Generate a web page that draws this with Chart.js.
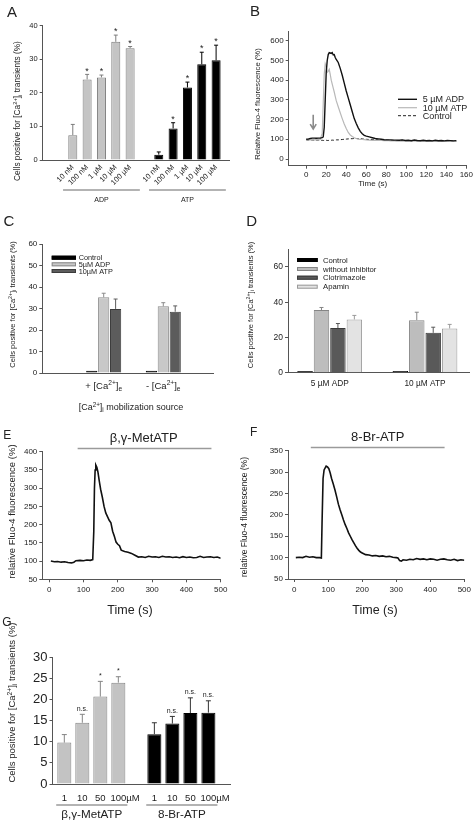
<!DOCTYPE html>
<html>
<head>
<meta charset="utf-8">
<script src="https://cdn.jsdelivr.net/npm/chart.js@4.4.0/dist/chart.umd.min.js"></script>
<style>
  html, body { margin: 0; padding: 0; background: #fff; }
  body { width: 474px; height: 829px; position: relative; overflow: hidden; }
  canvas { position: absolute; }
</style>
</head>
<body>
<canvas id="cA" width="237" height="210" style="left:0;top:0"></canvas>
<canvas id="cB" width="237" height="210" style="left:237px;top:0"></canvas>
<canvas id="cC" width="237" height="206" style="left:0;top:210px"></canvas>
<canvas id="cD" width="237" height="200" style="left:237px;top:210px"></canvas>
<canvas id="cE" width="237" height="212" style="left:0;top:410px"></canvas>
<canvas id="cF" width="237" height="212" style="left:237px;top:410px"></canvas>
<canvas id="cG" width="237" height="219" style="left:0;top:610px"></canvas>
<script>
// ---- data ----
// A: % cells with transients, ADP and ATP dose series
var aDoses = ['10 nM', '100 nM', '1 µM', '10 µM', '100 µM'];
var aGroups = ['ADP', 'ATP'];
var aAdp = [7.4, 24.0, 24.6, 35.2, 33.3];
var aAdpSem = [3.2, 1.5, 0.7, 2.0, 0.5];
var aAdpMarks = ['', '*', '*', '*', '*'];
var aAtp = [1.6, 9.4, 21.6, 28.5, 29.7];
var aAtpSem = [0.8, 1.7, 1.6, 3.6, 4.5];
var aAtpMarks = ['', '*', '*', '*', '*'];
var aYTicks = [0, 10, 20, 30, 40];

// B: Fluo-4 traces
var bSeries = ['5 µM ADP', '10 µM ATP', 'Control'];
var bTime = [0, 2, 4, 6, 8, 10, 12, 14,
  16, 17, 18, 19, 20, 21, 22, 23, 24, 25, 26, 27, 28, 29, 30,
  32, 34, 36, 38, 40, 42, 44, 46, 48, 50, 52, 54, 56, 58, 60,
  63, 66, 69, 72, 75, 78, 81, 84, 87, 90, 93, 96, 99, 102, 105, 108, 111, 114, 117, 120,
  123, 126, 129, 132, 135, 138, 141, 144, 147, 150];
var bAdp = [100, 101, 104, 106, 106, 105, 106, 106,
  108, 112, 160, 300, 440, 500, 530, 540, 538, 536, 540, 528, 530, 515, 505,
  490, 460, 425, 385, 345, 310, 275, 240, 205, 180, 158, 140, 128, 120, 116,
  112, 108, 104, 102, 100, 98, 97, 97, 96, 96, 95, 97, 94, 95, 93, 96, 94, 93, 95, 93,
  94, 92, 95, 93, 94, 92, 94, 93, 92, 93];
var bAtp = [98, 97, 97, 98, 97, 98, 97, 99,
  130, 280, 430, 484, 470, 440, 445, 455, 430, 400, 380, 360, 340, 318, 296,
  265, 235, 205, 178, 155, 135, 122, 114, 108, 104, 101, 100, 99, 98, 97,
  96, 95, 95, 94, 94, 93, 94, 92, 93, 91, 92, 90, 92, 91, 90, 92, 90, 91, 89, 91,
  90, 92, 90, 89, 91, 90, 89, 90, 91, 90];
var bCtrl = [97, 96, 97, 96, 96, 95, 96, 95,
  95, 94, 95, 94, 95, 94, 94, 95, 94, 95, 96, 95, 96, 96, 97,
  97, 98, 99, 100, 101, 102, 103, 103, 104, 104, 103, 103, 102, 101, 100,
  99, 99, 98, 97, 97, 96, 96, 95, 95, 94, 94, 95, 93, 94, 93, 94, 92, 93, 93, 92,
  93, 92, 93, 92, 91, 92, 93, 92, 92, 91];
var bArrowTime = 7;
var bXTicks = [0, 20, 40, 60, 80, 100, 120, 140, 160];
var bYTicks = [0, 100, 200, 300, 400, 500, 600];

// C: Ca2+ source
var cSources = ['+ [Ca^{2+}]_{e}', '- [Ca^{2+}]_{e}'];
var cSeries = ['Control', '5µM ADP', '10µM ATP'];
var cCtrl = [1, 1];
var cAdp = [35.2, 31.0];
var cAdpSem = [1.9, 1.7];
var cAtp = [29.8, 28.5];
var cAtpSem = [4.6, 2.7];
var cYTicks = [0, 10, 20, 30, 40, 50, 60];

// D: inhibitors
var dStimuli = ['5 µM ADP', '10 µM ATP'];
var dSeries = ['Control', 'without inhibitor', 'Clotrimazole', 'Apamin'];
var dCtrl = [1, 1];
var dWithout = [35.5, 29.8];
var dWithoutSem = [1.5, 4.5];
var dClotri = [25.3, 22.6];
var dClotriSem = [2.6, 3.2];
var dApamin = [30.2, 25.1];
var dApaminSem = [2.3, 2.3];
var dYTicks = [0, 20, 40, 60];

// E: beta,gamma-MetATP trace
var eDrug = 'β,γ-MetATP';
var eApplied = [83, 473];
var eTime = [5, 15, 25, 35, 45, 55, 65, 72, 78, 90, 100, 110, 120, 127,
  130, 132, 134, 136, 139, 142, 146, 150,
  155, 160, 165, 170, 175, 180, 185, 190, 195, 200, 205, 210,
  220, 230, 240, 250, 260, 270, 280, 290, 300, 310, 320, 330, 340, 350, 360, 370,
  380, 390, 400, 410, 420, 430, 440, 450, 460, 470, 480, 490, 500];
var eVal = [100, 98, 99, 97, 98, 96, 95, 97, 101, 102, 101, 103, 102, 104,
  180, 300, 350, 363, 357, 345, 320, 297,
  275, 250, 232, 222, 212, 205, 182, 168, 152, 146, 142, 130,
  126, 124, 121, 116, 111, 112, 110, 113, 111, 112, 110, 113, 111, 112, 110, 111,
  109, 112, 110, 111, 109, 110, 113, 110, 111, 112, 110, 111, 108];
var eXTicks = [0, 100, 200, 300, 400, 500];
var eYTicks = [50, 100, 150, 200, 250, 300, 350, 400];

// F: 8-Br-ATP trace
var fDrug = '8-Br-ATP';
var fApplied = [49, 442];
var fTime = [5, 15, 25, 35, 45, 55, 65, 75,
  80, 82, 85, 88, 94, 98, 102, 106, 110,
  115, 120, 125, 130, 135, 140, 145, 150, 155, 160, 165, 170, 175, 180, 185, 190, 195, 200,
  210, 220, 230, 240, 250, 260, 270, 280, 290, 300, 305, 310, 315,
  320, 330, 340, 350, 360, 370, 380, 390, 400, 410, 420, 430, 440, 450, 460, 470, 480, 490, 500];
var fVal = [100, 101, 100, 103, 101, 102, 100, 100,
  99, 180, 285, 305, 314, 312, 308, 298, 285,
  272, 258, 242, 225, 212, 200, 188, 177, 168, 158, 150, 142, 135, 128, 122, 117, 113, 111,
  107, 106, 104, 105, 103, 104, 102, 103, 101, 100, 99, 93, 92,
  95, 94, 96, 95, 98, 96, 97, 95, 97, 96, 94, 96, 97, 95, 94, 96, 93, 95, 94];
var fXTicks = [0, 100, 200, 300, 400, 500];
var fYTicks = [50, 100, 150, 200, 250, 300, 350];

// G: analogue dose series
var gDoses = ['1', '10', '50', '100'];
var gUnit = 'µM';
var gGroups = ['β,γ-MetATP', '8-Br-ATP'];
var gMet = [9.8, 14.5, 20.7, 24.0];
var gMetSem = [1.9, 2.0, 3.6, 1.4];
var gMetMarks = ['', 'n.s.', '*', '*'];
var gBr = [11.8, 14.3, 16.8, 16.9];
var gBrSem = [2.7, 1.7, 3.6, 2.8];
var gBrMarks = ['', 'n.s.', 'n.s.', 'n.s.'];
var gYTicks = [0, 5, 10, 15, 20, 25, 30];

// ---- helpers ----
var FONT = '"Liberation Sans", Arial, Helvetica, sans-serif';
var TXT = '#222';
var AX = '#555';
var CELLS = 'Cells positive for [Ca^{2+}]_{i} transients (%)';
Chart.defaults.font.family = FONT;
Chart.defaults.color = TXT;
Chart.defaults.animation = false;
Chart.defaults.plugins.legend.display = false;
Chart.defaults.plugins.tooltip.enabled = false;

// text with ^{sup} and _{sub}, centred on x,y
function rich(ctx, str, x, y, size, o) {
  o = o || {};
  var parts = [];
  str.split(/(\^\{[^}]*\}|_\{[^}]*\})/).forEach(function (b) {
    if (!b) return;
    if (b.charAt(0) === '^' && b.charAt(1) === '{') parts.push({ t: b.slice(2, -1), k: 1 });
    else if (b.charAt(0) === '_' && b.charAt(1) === '{') parts.push({ t: b.slice(2, -1), k: -1 });
    else parts.push({ t: b, k: 0 });
  });
  ctx.save();
  ctx.translate(x, y);
  if (o.rot) ctx.rotate(o.rot);
  ctx.fillStyle = o.color || TXT;
  ctx.textAlign = 'left';
  ctx.textBaseline = 'alphabetic';
  var w = 0;
  parts.forEach(function (p) {
    p.f = (o.weight ? o.weight + ' ' : '') + (p.k ? size * 0.7 : size) + 'px ' + FONT;
    ctx.font = p.f;
    p.w = ctx.measureText(p.t).width;
    w += p.w;
  });
  var cx = o.align === 'left' ? 0 : -w / 2;
  parts.forEach(function (p) {
    ctx.font = p.f;
    ctx.fillText(p.t, cx, size * 0.35 + (p.k === 1 ? -size * 0.4 : p.k === -1 ? size * 0.2 : 0));
    cx += p.w;
  });
  ctx.restore();
}

function textWidth(ctx, s, size) {
  ctx.save();
  ctx.font = size + 'px ' + FONT;
  var w = ctx.measureText(s).width;
  ctx.restore();
  return w;
}

function hline(ctx, x0, x1, y, color, w) {
  ctx.save();
  ctx.strokeStyle = color;
  ctx.lineWidth = w;
  ctx.beginPath();
  ctx.moveTo(x0, y);
  ctx.lineTo(x1, y);
  ctx.stroke();
  ctx.restore();
}

// place the plot area: p = canvas box, ca = plot area, both in page pixels
function frame(p, ca) {
  return {
    padding: { left: 0, top: ca.t - p.y, right: p.x + p.w - ca.r, bottom: 0 },
    yFit: function (s) { s.width = ca.l - p.x; },
    xFit: function (s) { s.height = p.y + p.h - ca.b; }
  };
}

function fixTicks(vals) {
  return function (s) { s.ticks = vals.map(function (v) { return { value: v }; }); };
}

function idx(arr, start) {
  return arr.map(function (v, i) { return { x: i + (start || 0), y: v }; });
}

function xy(xs, ys) {
  return xs.map(function (t, i) { return { x: t, y: ys[i] }; });
}

function range(n, start) {
  var out = [];
  for (var i = 0; i < n; i++) out.push(i + start);
  return out;
}

function yAxis(f, min, max, ticks, size) {
  return {
    type: 'linear', min: min, max: max,
    afterFit: f.yFit, afterBuildTicks: fixTicks(ticks),
    grid: { drawOnChartArea: false, tickLength: 3, color: AX },
    border: { color: AX, width: 1 },
    ticks: { padding: 2, font: { size: size }, color: TXT }
  };
}

function traceX(f, min, max, ticks, size, pad) {
  return {
    type: 'linear', min: min, max: max,
    afterFit: f.xFit, afterBuildTicks: fixTicks(ticks),
    grid: { drawOnChartArea: false, tickLength: 3, color: AX },
    border: { color: AX, width: 1 },
    ticks: { padding: pad, font: { size: size }, color: TXT, maxRotation: 0 }
  };
}

function groupLines(c, groups, spans, y, ty, size) {
  var xs = c.scales.x;
  groups.forEach(function (g, i) {
    var x0 = xs.getPixelForValue(spans[i][0]);
    var x1 = xs.getPixelForValue(spans[i][1]);
    hline(c.ctx, x0, x1, y, '#9a9a9a', 1.3);
    rich(c.ctx, g, (x0 + x1) / 2, ty, size);
  });
}

function boxLegend(c, x0, x1, ys, tx, size) {
  var ctx = c.ctx;
  c.data.datasets.forEach(function (ds, i) {
    ctx.save();
    ctx.fillStyle = ds.backgroundColor;
    ctx.strokeStyle = ds.borderColor;
    ctx.lineWidth = 1;
    ctx.fillRect(x0, ys[i] - 2, x1 - x0, 4);
    ctx.strokeRect(x0 + 0.5, ys[i] - 1.5, x1 - x0 - 1, 3);
    ctx.restore();
    rich(ctx, ds.label, tx, ys[i], size, { align: 'left' });
  });
}

// upward error bars and significance marks
Chart.register({
  id: 'errorBars',
  afterDatasetsDraw: function (chart) {
    var ctx = chart.ctx, ys = chart.scales.y;
    chart.data.datasets.forEach(function (ds, di) {
      if (!ds.sem) return;
      chart.getDatasetMeta(di).data.forEach(function (bar, i) {
        var top = ys.getPixelForValue(ds.data[i].y + ds.sem[i]);
        ctx.save();
        ctx.strokeStyle = ds.errColor;
        ctx.lineWidth = 1;
        ctx.beginPath();
        ctx.moveTo(bar.x, bar.y);
        ctx.lineTo(bar.x, top);
        ctx.moveTo(bar.x - ds.cap, top);
        ctx.lineTo(bar.x + ds.cap, top);
        ctx.stroke();
        ctx.restore();
        if (ds.marks && ds.marks[i]) rich(ctx, ds.marks[i], bar.x, top - ds.markGap, ds.markSize);
      });
    });
  }
});

// ---- A ----
var pA = { x: 0, y: 0, w: 237, h: 210 };
var fA = frame(pA, { l: 42.7, t: 25.7, r: 229, b: 160 });
var aAtpStart = aDoses.length + 1;
new Chart(document.getElementById('cA'), {
  type: 'bar',
  data: {
    datasets: [
      { label: aGroups[0], data: idx(aAdp), backgroundColor: '#c4c4c4', borderColor: '#7c7c7c', borderWidth: 1,
        sem: aAdpSem, errColor: '#7c7c7c', cap: 2, marks: aAdpMarks, markGap: 4, markSize: 9 },
      { label: aGroups[1], data: idx(aAtp, aAtpStart), backgroundColor: '#000', borderColor: '#000', borderWidth: 1,
        sem: aAtpSem, errColor: '#000', cap: 2, marks: aAtpMarks, markGap: 4, markSize: 9 }
    ]
  },
  options: {
    responsive: false,
    layout: { padding: fA.padding },
    datasets: { bar: { grouped: false, categoryPercentage: 1, barPercentage: 0.63 } },
    scales: {
      x: {
        type: 'linear', min: -2.1, max: 10.9, offset: false,
        afterFit: fA.xFit,
        afterBuildTicks: fixTicks(range(aDoses.length, 0).concat(range(aDoses.length, aAtpStart))),
        grid: { display: false, drawTicks: false, offset: false },
        border: { color: AX },
        ticks: {
          autoSkip: false, minRotation: 45, maxRotation: 45, padding: 3, font: { size: 7.5 }, color: TXT,
          callback: function (v) { return v < aAtpStart ? aDoses[v] : aDoses[v - aAtpStart]; }
        }
      },
      y: yAxis(fA, 0, 40, aYTicks, 7.5)
    }
  },
  plugins: [{
    id: 'extA',
    afterDraw: function (c) {
      rich(c.ctx, 'A', 12, 12, 15);
      rich(c.ctx, CELLS, 17, 111, 8.3, { rot: -Math.PI / 2 });
      var n = aDoses.length - 1;
      groupLines(c, aGroups, [[-0.68, n + 0.68], [aAtpStart - 0.68, aAtpStart + n + 0.68]], 190, 200, 7);
    }
  }]
});

// ---- B ----
var pB = { x: 237, y: 0, w: 237, h: 210 };
var fB = frame(pB, { l: 288.7, t: 31.7, r: 467, b: 165.7 });
new Chart(document.getElementById('cB'), {
  type: 'line',
  data: {
    datasets: [
      { label: bSeries[0], data: xy(bTime, bAdp), borderColor: '#111', borderWidth: 1.4 },
      { label: bSeries[1], data: xy(bTime, bAtp), borderColor: '#b8b8b8', borderWidth: 1.2 },
      { label: bSeries[2], data: xy(bTime, bCtrl), borderColor: '#222', borderWidth: 1, borderDash: [3, 2] }
    ]
  },
  options: {
    responsive: false,
    layout: { padding: fB.padding },
    elements: { point: { radius: 0 }, line: { tension: 0 } },
    scales: {
      x: traceX(fB, -17.5, 160, bXTicks, 8, 1),
      y: yAxis(fB, -34, 646, bYTicks, 8)
    }
  },
  plugins: [{
    id: 'extB',
    afterDraw: function (c) {
      var ctx = c.ctx;
      rich(ctx, 'B', 18, 11, 15);
      rich(ctx, 'Relative Fluo-4 fluorescence (%)', 20.7, 104, 7.7, { rot: -Math.PI / 2 });
      rich(ctx, 'Time (s)', 135.7, 182.7, 8);
      var ly = [99.3, 107.7, 115.7];
      c.data.datasets.forEach(function (ds, i) {
        ctx.save();
        ctx.strokeStyle = ds.borderColor;
        ctx.lineWidth = ds.borderWidth;
        ctx.setLineDash(ds.borderDash || []);
        ctx.beginPath();
        ctx.moveTo(161, ly[i]);
        ctx.lineTo(180, ly[i]);
        ctx.stroke();
        ctx.restore();
        rich(ctx, ds.label, 185.7, ly[i], 9, { align: 'left' });
      });
      // arrow marking the addition
      var ax = c.scales.x.getPixelForValue(bArrowTime);
      var y0 = c.scales.y.getPixelForValue(225), y1 = c.scales.y.getPixelForValue(152);
      ctx.save();
      ctx.strokeStyle = '#8a8a8a';
      ctx.lineWidth = 1.6;
      ctx.beginPath();
      ctx.moveTo(ax, y0);
      ctx.lineTo(ax, y1);
      ctx.moveTo(ax - 3, y1 - 5);
      ctx.lineTo(ax, y1);
      ctx.lineTo(ax + 3, y1 - 5);
      ctx.stroke();
      ctx.restore();
    }
  }]
});

// ---- C ----
var pC = { x: 0, y: 210, w: 237, h: 206 };
var fC = frame(pC, { l: 42.3, t: 244, r: 213, b: 373 });
new Chart(document.getElementById('cC'), {
  type: 'bar',
  data: {
    datasets: [
      { label: cSeries[0], data: idx(cCtrl), backgroundColor: '#000', borderColor: '#000', borderWidth: 1 },
      { label: cSeries[1], data: idx(cAdp), backgroundColor: '#c8c8c8', borderColor: '#8a8a8a', borderWidth: 1,
        sem: cAdpSem, errColor: '#8a8a8a', cap: 2 },
      { label: cSeries[2], data: idx(cAtp), backgroundColor: '#5c5c5c', borderColor: '#3c3c3c', borderWidth: 1,
        sem: cAtpSem, errColor: '#5c5c5c', cap: 2 }
    ]
  },
  options: {
    responsive: false,
    layout: { padding: fC.padding },
    datasets: { bar: { categoryPercentage: 0.6, barPercentage: 0.94 } },
    scales: {
      x: {
        type: 'linear', min: -1.03, max: 1.834, offset: false,
        afterFit: fC.xFit, afterBuildTicks: fixTicks(range(cSources.length, 0)),
        grid: { display: false, drawTicks: false, offset: false },
        border: { color: AX },
        ticks: { display: false }
      },
      y: yAxis(fC, 0, 60, cYTicks, 8)
    }
  },
  plugins: [{
    id: 'extC',
    afterDraw: function (c) {
      var ctx = c.ctx;
      rich(ctx, 'C', 9, 11, 15);
      rich(ctx, CELLS, 12, 94.5, 7.5, { rot: -Math.PI / 2 });
      cSources.forEach(function (s, i) { rich(ctx, s, c.scales.x.getPixelForValue(i), 175.7, 9.5); });
      rich(ctx, '[Ca^{2+}]_{i} mobilization source', 131, 197, 9);
      boxLegend(c, 51.7, 76, [47.7, 54.3, 61], 78.7, 7.3);
    }
  }]
});

// ---- D ----
var pD = { x: 237, y: 210, w: 237, h: 200 };
var fD = frame(pD, { l: 288, t: 249.3, r: 469.3, b: 372.7 });
new Chart(document.getElementById('cD'), {
  type: 'bar',
  data: {
    datasets: [
      { label: dSeries[0], data: idx(dCtrl), backgroundColor: '#000', borderColor: '#000', borderWidth: 1 },
      { label: dSeries[1], data: idx(dWithout), backgroundColor: '#bdbdbd', borderColor: '#858585', borderWidth: 1,
        sem: dWithoutSem, errColor: '#858585', cap: 2 },
      { label: dSeries[2], data: idx(dClotri), backgroundColor: '#595959', borderColor: '#3a3a3a', borderWidth: 1,
        sem: dClotriSem, errColor: '#595959', cap: 2 },
      { label: dSeries[3], data: idx(dApamin), backgroundColor: '#e3e3e3', borderColor: '#9a9a9a', borderWidth: 1,
        sem: dApaminSem, errColor: '#9a9a9a', cap: 2 }
    ]
  },
  options: {
    responsive: false,
    layout: { padding: fD.padding },
    datasets: { bar: { categoryPercentage: 0.69, barPercentage: 0.94 } },
    scales: {
      x: {
        type: 'linear', min: -0.4376, max: 1.465, offset: false,
        afterFit: fD.xFit, afterBuildTicks: fixTicks(range(dStimuli.length, 0)),
        grid: { display: false, drawTicks: false, offset: false },
        border: { color: AX },
        ticks: { padding: 6, font: { size: 8.3 }, color: TXT, maxRotation: 0,
          callback: function (v) { return dStimuli[v]; } }
      },
      y: yAxis(fD, 0, 70, dYTicks, 8.5)
    }
  },
  plugins: [{
    id: 'extD',
    afterDraw: function (c) {
      rich(c.ctx, 'D', 14.7, 11, 15);
      rich(c.ctx, CELLS, 13.3, 95, 7.5, { rot: -Math.PI / 2 });
      boxLegend(c, 60, 80.7, [50, 59, 67.7, 76.7], 86, 7.7);
    }
  }]
});

// ---- E / F ----
function traceChart(id, p, ca, letter, drug, applied, times, vals, xMin, xMax, xTicks, yMax, yTicks, pos) {
  var f = frame(p, ca);
  return new Chart(document.getElementById(id), {
    type: 'line',
    data: { datasets: [{ label: drug, data: xy(times, vals), borderColor: '#111', borderWidth: 1.6 }] },
    options: {
      responsive: false,
      layout: { padding: f.padding },
      elements: { point: { radius: 0 }, line: { tension: 0 } },
      scales: {
        x: traceX(f, xMin, xMax, xTicks, 8, 3),
        y: yAxis(f, 50, yMax, yTicks, 8)
      }
    },
    plugins: [{
      id: 'ext' + letter,
      afterDraw: function (c) {
        var ctx = c.ctx, xs = c.scales.x;
        rich(ctx, letter, pos.lx, pos.ly, 12);
        rich(ctx, drug, pos.dx, pos.dy, 13);
        hline(ctx, xs.getPixelForValue(applied[0]), xs.getPixelForValue(applied[1]), pos.dy + 11, '#9a9a9a', 1.3);
        rich(ctx, 'relative Fluo-4 fluorescence (%)', pos.yx, pos.yy, pos.ys, { rot: -Math.PI / 2 });
        rich(ctx, 'Time (s)', pos.tx, 199.5, 12.5);
      }
    }]
  });
}
traceChart('cE', { x: 0, y: 410, w: 237, h: 212 }, { l: 42.3, t: 451.7, r: 220.7, b: 579.3 }, 'E', eDrug, eApplied,
  eTime, eVal, -20, 500, eXTicks, 400, eYTicks,
  { lx: 7.3, ly: 25, dx: 143.7, dy: 27.5, yx: 12, yy: 101.5, ys: 9.5, tx: 130 });
traceChart('cF', { x: 237, y: 410, w: 237, h: 212 }, { l: 288, t: 450.7, r: 465.2, b: 579 }, 'F', fDrug, fApplied,
  fTime, fVal, -18, 500, fXTicks, 350, fYTicks,
  { lx: 16.7, ly: 21.7, dx: 140.7, dy: 26.5, yx: 6.7, yy: 107, ys: 8.5, tx: 138 });

// ---- G ----
var pG = { x: 0, y: 610, w: 237, h: 219 };
var fG = frame(pG, { l: 52.5, t: 657.3, r: 230, b: 784 });
var gBrStart = gDoses.length + 1;
new Chart(document.getElementById('cG'), {
  type: 'bar',
  data: {
    datasets: [
      { label: gGroups[0], data: idx(gMet), backgroundColor: '#c3c3c3', borderColor: '#858585', borderWidth: 1,
        sem: gMetSem, errColor: '#858585', cap: 2.5, marks: gMetMarks, markGap: 6, markSize: 7 },
      { label: gGroups[1], data: idx(gBr, gBrStart), backgroundColor: '#000', borderColor: '#000', borderWidth: 1,
        sem: gBrSem, errColor: '#333', cap: 2.5, marks: gBrMarks, markGap: 6, markSize: 7 }
    ]
  },
  options: {
    responsive: false,
    layout: { padding: fG.padding },
    datasets: { bar: { grouped: false, categoryPercentage: 1, barPercentage: 0.78 } },
    scales: {
      x: {
        type: 'linear', min: -0.656, max: 9.2, offset: false,
        afterFit: fG.xFit,
        afterBuildTicks: fixTicks(range(gDoses.length, 0).concat(range(gDoses.length, gBrStart))),
        grid: { display: false, drawTicks: false, offset: false },
        border: { color: AX },
        ticks: { display: false }
      },
      y: yAxis(fG, 0, 30, gYTicks, 13)
    }
  },
  plugins: [{
    id: 'extG',
    afterDraw: function (c) {
      var ctx = c.ctx, xs = c.scales.x, n = gDoses.length;
      rich(ctx, 'G', 7, 11.7, 12);
      rich(ctx, CELLS, 12, 92.5, 9.5, { rot: -Math.PI / 2 });
      // dose numbers centred under each bar, unit trailing after the last one
      [0, gBrStart].forEach(function (start) {
        gDoses.forEach(function (d, i) {
          var s = i === n - 1 ? d + gUnit : d;
          var x = xs.getPixelForValue(start + i) - textWidth(ctx, d, 9.5) / 2;
          rich(ctx, s, x, 187.3, 9.5, { align: 'left' });
        });
      });
      groupLines(c, gGroups, [[-0.45, n - 1 + 0.5], [gBrStart - 0.45, gBrStart + n - 1 + 0.5]], 195, 203.5, 11.7);
    }
  }]
});
</script>
</body>
</html>
